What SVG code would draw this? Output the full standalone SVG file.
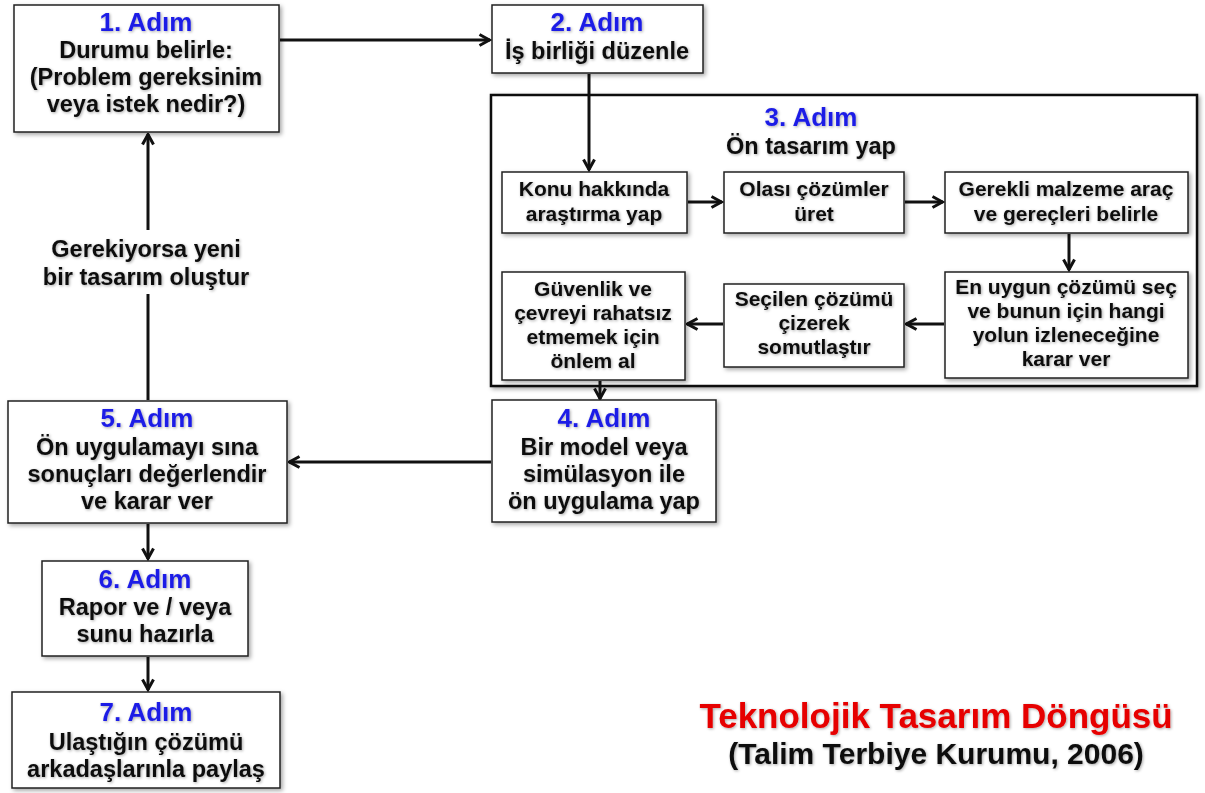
<svg xmlns="http://www.w3.org/2000/svg" width="1205" height="793" viewBox="0 0 1205 793">
<style>
text{font-family:"Liberation Sans",Arial,sans-serif;font-weight:bold;text-anchor:middle;fill:#111;filter:url(#glow)}
.step{fill:#1f1fe6;font-size:26px}
.b{font-size:23.5px}
.s{font-size:21px}
.box{fill:#fff;stroke:#222;stroke-width:1.5;filter:url(#sh)}
.outer{fill:#fff;stroke:#111;stroke-width:2.5;filter:url(#sh)}
.c{fill:none;stroke:#111;stroke-width:3}
.title{fill:#e60000;font-size:35px}
.sub{font-size:30px}
</style>
<defs>
<filter id="sh" x="-10%" y="-10%" width="130%" height="130%">
<feDropShadow dx="2" dy="2" stdDeviation="2" flood-color="#000" flood-opacity="0.35"/>
</filter>
<filter id="glow" x="-10%" y="-30%" width="120%" height="160%">
<feGaussianBlur in="SourceAlpha" stdDeviation="1.5" result="b"/>
<feOffset dx="1" dy="1" in="b" result="o"/>
<feComponentTransfer in="o" result="f"><feFuncA type="linear" slope="0.35"/></feComponentTransfer>
<feMerge><feMergeNode in="f"/><feMergeNode in="SourceGraphic"/></feMerge>
</filter>
<marker id="a" viewBox="0 0 14 14" refX="12.5" refY="7" markerWidth="14" markerHeight="14" markerUnits="userSpaceOnUse" orient="auto">
<path d="M2,1.5 L12,7 L2,12.5" fill="none" stroke="#111" stroke-width="3"/>
</marker>
</defs>
<rect width="1205" height="793" fill="#fff"/>
<g id="n3">
<rect class="outer" x="491" y="95" width="706" height="291"/>
<text class="step" x="811" y="126">3. Adım</text>
<text class="b" x="811" y="154">Ön tasarım yap</text>
</g>
<g id="connectors">
<line class="c" x1="280" y1="40" x2="490" y2="40" marker-end="url(#a)"/>
<line class="c" x1="589" y1="74" x2="589" y2="170" marker-end="url(#a)"/>
<line class="c" x1="688" y1="202" x2="722" y2="202" marker-end="url(#a)"/>
<line class="c" x1="905" y1="202" x2="943" y2="202" marker-end="url(#a)"/>
<line class="c" x1="1069" y1="234" x2="1069" y2="270" marker-end="url(#a)"/>
<line class="c" x1="944" y1="324" x2="906" y2="324" marker-end="url(#a)"/>
<line class="c" x1="723" y1="324" x2="687" y2="324" marker-end="url(#a)"/>
<line class="c" x1="600" y1="381" x2="600" y2="399" marker-end="url(#a)"/>
<line class="c" x1="491" y1="462" x2="289" y2="462" marker-end="url(#a)"/>
<line class="c" x1="148" y1="400" x2="148" y2="294"/>
<line class="c" x1="148" y1="230" x2="148" y2="134" marker-end="url(#a)"/>
<line class="c" x1="148" y1="524" x2="148" y2="559" marker-end="url(#a)"/>
<line class="c" x1="148" y1="657" x2="148" y2="690" marker-end="url(#a)"/>
<text class="b" x="146" y="257">Gerekiyorsa yeni</text>
<text class="b" x="146" y="285">bir tasarım oluştur</text>
</g>
<g id="n1">
<rect class="box" x="14" y="5" width="265" height="127"/>
<text class="step" x="146" y="31">1. Adım</text>
<text class="b" x="146" y="58">Durumu belirle:</text>
<text class="b" x="146" y="85">(Problem gereksinim</text>
<text class="b" x="146" y="112">veya istek nedir?)</text>
</g>
<g id="n2">
<rect class="box" x="492" y="5" width="211" height="68"/>
<text class="step" x="597" y="31">2. Adım</text>
<text class="b" x="597" y="59">İş birliği düzenle</text>
</g>
<g id="n3a">
<rect class="box" x="502" y="172" width="185" height="61"/>
<text class="s" x="594" y="196">Konu hakkında</text>
<text class="s" x="594" y="221">araştırma yap</text>
</g>
<g id="n3b">
<rect class="box" x="724" y="172" width="180" height="61"/>
<text class="s" x="814" y="196">Olası çözümler</text>
<text class="s" x="814" y="221">üret</text>
</g>
<g id="n3c">
<rect class="box" x="945" y="172" width="243" height="61"/>
<text class="s" x="1066" y="196">Gerekli malzeme araç</text>
<text class="s" x="1066" y="221">ve gereçleri belirle</text>
</g>
<g id="n3d">
<rect class="box" x="945" y="272" width="243" height="106"/>
<text class="s" x="1066" y="294">En uygun çözümü seç</text>
<text class="s" x="1066" y="318">ve bunun için hangi</text>
<text class="s" x="1066" y="342">yolun izleneceğine</text>
<text class="s" x="1066" y="366">karar ver</text>
</g>
<g id="n3e">
<rect class="box" x="724" y="284" width="180" height="83"/>
<text class="s" x="814" y="306">Seçilen çözümü</text>
<text class="s" x="814" y="330">çizerek</text>
<text class="s" x="814" y="354">somutlaştır</text>
</g>
<g id="n3f">
<rect class="box" x="502" y="272" width="183" height="108"/>
<text class="s" x="593" y="296">Güvenlik ve</text>
<text class="s" x="593" y="320">çevreyi rahatsız</text>
<text class="s" x="593" y="344">etmemek için</text>
<text class="s" x="593" y="368">önlem al</text>
</g>
<g id="n4">
<rect class="box" x="492" y="400" width="224" height="122"/>
<text class="step" x="604" y="427">4. Adım</text>
<text class="b" x="604" y="455">Bir model veya</text>
<text class="b" x="604" y="482">simülasyon ile</text>
<text class="b" x="604" y="509">ön uygulama yap</text>
</g>
<g id="n5">
<rect class="box" x="8" y="401" width="279" height="122"/>
<text class="step" x="147" y="427">5. Adım</text>
<text class="b" x="147" y="455">Ön uygulamayı sına</text>
<text class="b" x="147" y="482">sonuçları değerlendir</text>
<text class="b" x="147" y="509">ve karar ver</text>
</g>
<g id="n6">
<rect class="box" x="42" y="561" width="206" height="95"/>
<text class="step" x="145" y="588">6. Adım</text>
<text class="b" x="145" y="615">Rapor ve / veya</text>
<text class="b" x="145" y="642">sunu hazırla</text>
</g>
<g id="n7">
<rect class="box" x="12" y="692" width="268" height="96"/>
<text class="step" x="146" y="721">7. Adım</text>
<text class="b" x="146" y="750">Ulaştığın çözümü</text>
<text class="b" x="146" y="777">arkadaşlarınla paylaş</text>
</g>
<g id="title">
<text class="title" x="936" y="728">Teknolojik Tasarım Döngüsü</text>
<text class="sub" x="936" y="764">(Talim Terbiye Kurumu, 2006)</text>
</g>
</svg>
